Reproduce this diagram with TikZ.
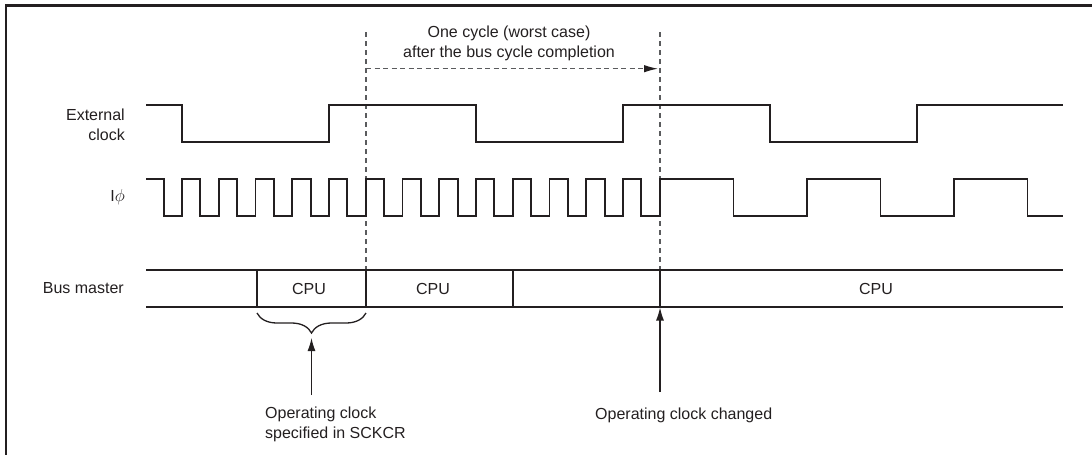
\documentclass[tikz,border=0pt]{standalone}
\usepackage{fontspec}
\setmainfont{Liberation Sans}
\usetikzlibrary{arrows.meta,decorations.pathreplacing}
\definecolor{ink}{HTML}{231F20}
\definecolor{dgray}{HTML}{5A5B5D}
\tikzset{
  sig/.style={draw=ink, line width=1.9pt, line join=miter},
  busline/.style={draw=ink, line width=1.9pt},
  dashv/.style={draw=dgray, line width=1.2pt, dash pattern=on 5pt off 4pt},
  dasharrow/.style={draw=dgray, line width=1.2pt, dash pattern=on 5pt off 3.5pt, -{Latex[length=14pt,width=7.5pt,color=ink,fill=ink]}},
  uparrow/.style={draw=ink, line width=1.2pt, -{Latex[length=13pt,width=8pt]}},
  lbl/.style={text=ink, inner sep=0pt, font=\fontsize{16}{20}\selectfont},
  bracestyle/.style={draw=ink, line width=1.3pt, decorate, decoration={brace, amplitude=20pt, aspect=0.5}}
}
\begin{document}
\begin{tikzpicture}[x=1pt,y=-1pt]
\useasboundingbox (0,0) rectangle (1092,455);
% frame
\draw[ink, line width=2.6pt] (6,455) -- (6,5.7) -- (1092,5.7);

% labels
\node[lbl, anchor=east, align=right] (ext) at (125,124.8) {External\\clock};
\node[lbl, anchor=base east] (phi) at (125,201.5) {I$\phi$};
\node[lbl, anchor=base east] (bus) at (124,293.5) {Bus master};

% dashed guide lines
\coordinate (d1t) at (366,32);
\coordinate (d1b) at (366,270);
\coordinate (d2t) at (660,32);
\coordinate (d2b) at (660,270);
\draw[dashv] (d1t) -- (d1b);
\draw[dashv] (d2t) -- (d2b);
\coordinate (h1) at (366,68.7);
\coordinate (h2) at (658,68.7);
\draw[dasharrow] (h1) -- (h2);
\node[lbl, align=center] (cyc) at (509,43.5) {One cycle (worst case)\\after the bus cycle completion};

% external clock
\draw[sig] (146,105) -| (182,142) -| (329,105) -| (476,142) -| (623,105) -| (770,142) -| (917,105) -- (1063,105);

% I phi
\draw[sig] (146,179) -| (163.625,216)
  foreach \k in {0,...,12} { -| ({182+36.75*\k},179) -| ({200.375+36.75*\k},216) }
  -| (660,179) -| (733.5,216) -| (807,179) -| (880.5,216) -| (954,179) -| (1027.5,216) -- (1063,216);

% bus master
\draw[busline] (146,270) -- (1063,270);
\draw[busline] (146,307) -- (1063,307);
\foreach \xx in {257,366,513,660} { \draw[busline] (\xx,270) -- (\xx,307); }
\node[lbl, anchor=base] (cpu1) at (309,294.5) {CPU};
\node[lbl, anchor=base] (cpu2) at (433,294.5) {CPU};
\node[lbl, anchor=base] (cpu3) at (876,294.5) {CPU};

% brace and arrows
\coordinate (bl) at (257,313);
\coordinate (br) at (366,313);
\draw[bracestyle] (br) -- (bl);
\coordinate (a1s) at (311.5,395);
\coordinate (a1e) at (311.5,338);
\draw[uparrow] (a1s) -- (a1e);
\node[lbl, align=left, anchor=west] (op1) at (265,424.1) {Operating clock\\specified in SCKCR};

\coordinate (a2s) at (660,392);
\coordinate (a2e) at (660,307.5);
\draw[uparrow] (a2s) -- (a2e);
\node[lbl, anchor=base west] (op2) at (595,419.3) {Operating clock changed};
\end{tikzpicture}
\end{document}
